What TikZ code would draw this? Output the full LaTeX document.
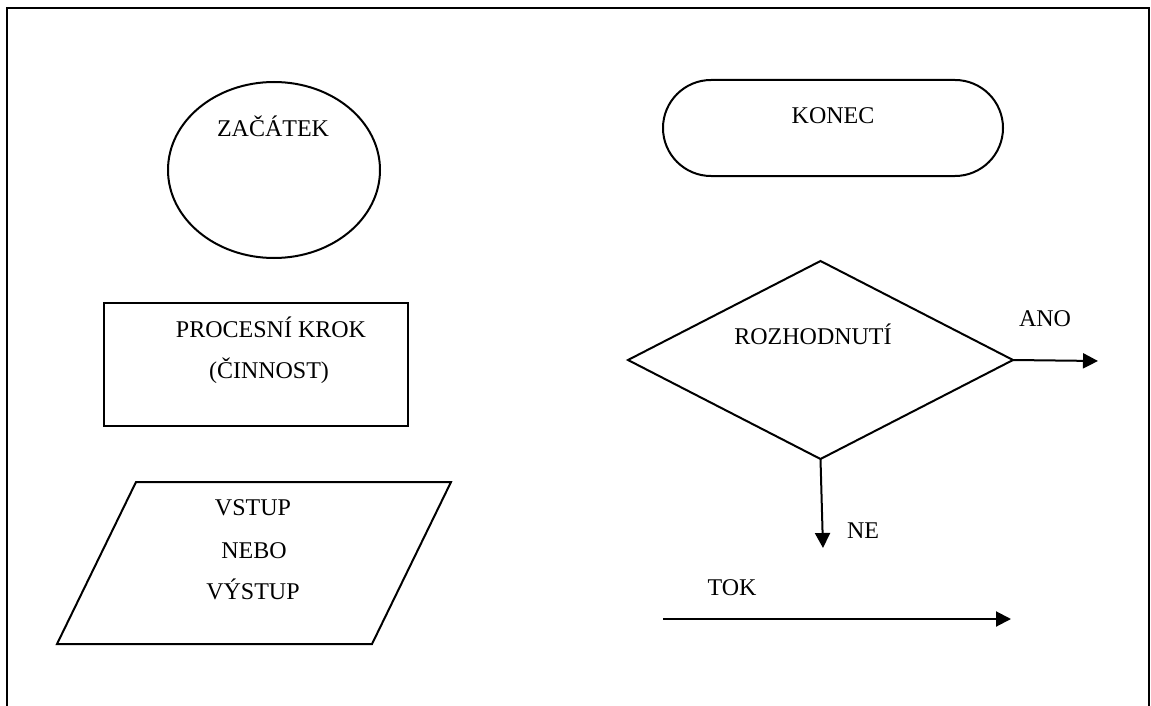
\documentclass[tikz,border=0pt]{standalone}
\usepackage{fontspec}
\setmainfont{Liberation Serif}
\usetikzlibrary{shapes.geometric,arrows.meta}
\begin{document}
\begin{tikzpicture}[x=1pt,y=-1pt,
  outline/.style={draw=black,line width=2pt,inner sep=0pt,outer sep=0pt},
  lbl/.style={anchor=base,inner sep=0pt,font=\fontsize{24}{28}\selectfont},
  flow/.style={line width=2pt,-{Triangle[length=15pt,width=15pt]}}]
\useasboundingbox (0,0) rectangle (1151,706);

% page frame, open at the bottom
\draw[line width=2pt] (7,706) -- (7,8) -- (1149,8) -- (1149,706);

% start symbol
\node[outline,ellipse,minimum width=212pt,minimum height=176pt] (start) at (274,170) {};
\node[lbl] (starttxt) at (273,137) {ZAČÁTEK};

% end symbol
\node[outline,rectangle,rounded corners=48pt,minimum width=340pt,minimum height=96pt] (end) at (833,128) {};
\node[lbl] (endtxt) at (833,124) {KONEC};

% process step
\node[outline,rectangle,minimum width=304pt,minimum height=123pt] (proc) at (256,364.5) {};
\node[lbl] (proctxt1) at (271,337) {PROCESNÍ KROK};
\node[lbl] (proctxt2) at (269,378) {(ČINNOST)};

% input / output
\draw[line width=2pt,line join=miter] (136,482) -- (451,482) -- (372,644) -- (57,644) -- cycle;
\node[lbl] (iotxt1) at (253,515) {VSTUP};
\node[lbl] (iotxt2) at (254,558) {NEBO};
\node[lbl] (iotxt3) at (253,599) {VÝSTUP};

% decision
\node[outline,diamond,minimum width=385pt,minimum height=198pt] (dec) at (820.5,360) {};
\node[lbl] (dectxt) at (813,344) {ROZHODNUTÍ};
\coordinate (yes) at (1098,361);
\coordinate (no) at (823,548);
\draw[flow] (dec.east) -- (yes);
\draw[flow] (dec.south) -- (no);
\node[lbl] (yestxt) at (1045,326) {ANO};
\node[lbl] (notxt) at (863,538) {NE};

% flow line
\coordinate (flowa) at (663,619);
\coordinate (flowb) at (1011,619);
\draw[flow] (flowa) -- (flowb);
\node[lbl] (flowtxt) at (732,595) {TOK};
\end{tikzpicture}
\end{document}
